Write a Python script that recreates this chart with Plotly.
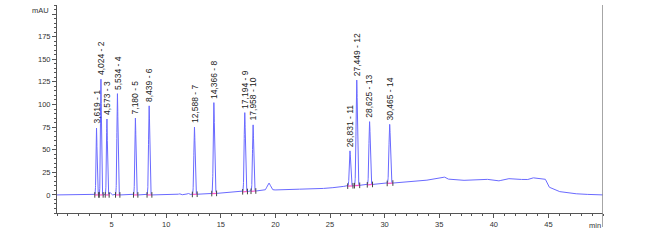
import numpy as np
import plotly.graph_objects as go

# ---- data ----
peak_times = [3.619, 4.024, 4.573, 5.534, 7.180, 8.439, 12.588, 14.366,
              17.194, 17.958, 26.831, 27.449, 28.625, 30.465]
peak_apex = [74, 128, 84, 112, 85, 98.5, 75, 102, 91, 77.5, 48.7, 127, 81, 78]
peak_ids = list(range(1, 15))
peak_sigma = [0.045, 0.045, 0.045, 0.05, 0.05, 0.055, 0.055, 0.055,
              0.055, 0.055, 0.06, 0.06, 0.06, 0.065]

# unlabeled small bumps (time, height above baseline, sigma)
bump_times = [4.85, 11.2, 12.0, 14.5, 19.4, 35.45]
bump_heights = [2.5, 1.2, 1.5, 3.0, 8.0, 2.0]
bump_sigma = [0.08, 0.08, 0.08, 0.05, 0.15, 0.12]

# baseline drift knots (time, mAU)
base_t = [0, 10, 12, 15, 18, 20, 25, 25.7, 27, 30, 33, 34, 35, 35.8, 37,
          38, 39, 40, 40.5, 41.2, 42, 43, 43.5, 44, 44.7, 45, 45.5, 46, 47, 48, 50]
base_v = [0, 0, 0.3, 1.9, 4.2, 5.5, 7.4, 9.0, 10.0, 12.5, 15.0, 16.5, 18.3, 17.5, 16.0,
          16.5, 17.7, 16.5, 15.5, 18.0, 17.8, 16.5, 19.0, 18.5, 18.0, 9.0, 6.0, 3.7, 1.8, 0.8, 0]

x_ticks = [5, 10, 15, 20, 25, 30, 35, 40, 45]
y_ticks = [0, 25, 50, 75, 100, 125, 150, 175]

# ---- build signal ----
t = np.linspace(0, 50, 10001)
baseline = np.interp(t, base_t, base_v)
signal = baseline.copy()
for tp, ap, sg in zip(peak_times, peak_apex, peak_sigma):
    amp = ap - np.interp(tp, base_t, base_v)
    signal += amp * np.exp(-0.5 * ((t - tp) / sg) ** 2)
for tb, hb, sg in zip(bump_times, bump_heights, bump_sigma):
    signal += hb * np.exp(-0.5 * ((t - tb) / sg) ** 2)

fig = go.Figure()
fig.add_trace(go.Scatter(x=t, y=signal, mode="lines",
                         line=dict(color="#6a6aff", width=1), hoverinfo="skip"))

# integration baseline segments (magenta) and delimiters
seg_x, seg_y, tick_x, tick_y = [], [], [], []
for tp, sg in zip(peak_times, peak_sigma):
    a, b = tp - 3.5 * sg, tp + 4.5 * sg
    seg_x += [a, b, None]
    seg_y += [np.interp(a, base_t, base_v), np.interp(b, base_t, base_v), None]
    tick_x += [a, b]
    tick_y += [np.interp(a, base_t, base_v), np.interp(b, base_t, base_v)]
fig.add_trace(go.Scatter(x=seg_x, y=seg_y, mode="lines",
                         line=dict(color="#ff55cc", width=1.2), hoverinfo="skip"))
fig.add_trace(go.Scatter(x=tick_x, y=tick_y, mode="markers",
                         marker=dict(symbol="line-ns-open", size=4, color="#444",
                                     line=dict(color="#444", width=1)),
                         hoverinfo="skip"))

for tp, ap, pid in zip(peak_times, peak_apex, peak_ids):
    label = f"{tp:.3f}".replace(".", ",") + f" - {pid}"
    fig.add_annotation(x=tp, y=ap, text=label, textangle=-90, showarrow=False,
                       xanchor="center", yanchor="bottom", yshift=2,
                       font=dict(family="Liberation Sans, Arial", size=8.5, color="#222"))

fig.add_annotation(x=50, y=-20, xref="x", yref="y", text="min", showarrow=False,
                   xanchor="right", yanchor="top", yshift=-6,
                   font=dict(family="Liberation Sans, Arial", size=7.5, color="#333"))
fig.add_annotation(x=0, y=204, xref="x", yref="y", text="mAU", showarrow=False,
                   xanchor="right", yanchor="middle", xshift=-6,
                   font=dict(family="Liberation Sans, Arial", size=7.5, color="#333"))

fig.add_shape(type="line", xref="x", yref="paper", x0=50, x1=50, y0=-0.067, y1=1,
              line=dict(color="#888", width=1.5))

fig.update_layout(
    width=647, height=242,
    margin=dict(l=57, r=44, t=5, b=29),
    paper_bgcolor="white", plot_bgcolor="white",
    showlegend=False,
    xaxis=dict(range=[0, 50], tickvals=x_ticks, ticks="outside", ticklen=4,
               tickcolor="#555", showline=True, linecolor="#555", linewidth=1,
               showgrid=False, zeroline=False,
               minor=dict(dtick=1, tick0=0, ticks="outside", ticklen=2, tickcolor="#555"),
               tickfont=dict(family="Liberation Sans, Arial", size=7.5, color="#333")),
    yaxis=dict(range=[-20, 210], tickvals=y_ticks + [200], ticktext=[str(v) for v in y_ticks] + [""],
               ticks="outside", ticklen=4,
               tickcolor="#555", showline=True, linecolor="#555", linewidth=1,
               showgrid=False, zeroline=False,
               minor=dict(dtick=5, tick0=0, ticks="outside", ticklen=2, tickcolor="#555"),
               tickfont=dict(family="Liberation Sans, Arial", size=7.5, color="#333")),
)

fig.write_html("out.html")
